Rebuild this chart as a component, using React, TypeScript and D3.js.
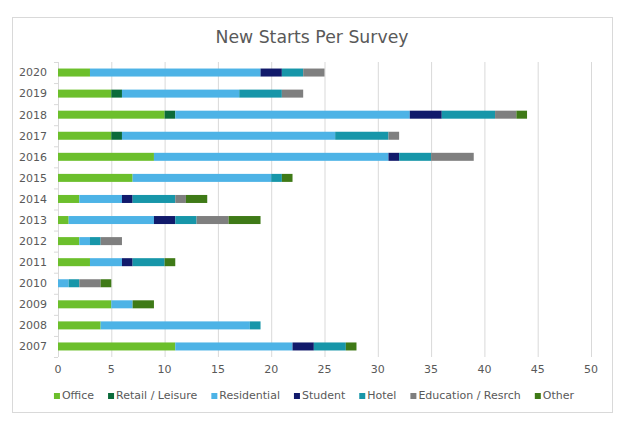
import React, { useRef, useEffect } from 'react';
import * as d3 from 'd3';

const years = ['2020', '2019', '2018', '2017', '2016', '2015', '2014', '2013', '2012', '2011', '2010', '2009', '2008', '2007'];
const seriesNames = ['Office', 'Retail / Leisure', 'Residential', 'Student', 'Hotel', 'Education / Resrch', 'Other'];
const seriesColors = ['#6cbf2c', '#0b6b3a', '#4db3e6', '#111a6b', '#1796a9', '#7f7f7f', '#3f7a17'];

// values per year, same order as years
const office = [3, 5, 10, 5, 9, 7, 2, 1, 2, 3, 0, 5, 4, 11];
const retail = [0, 1, 1, 1, 0, 0, 0, 0, 0, 0, 0, 0, 0, 0];
const residential = [16, 11, 22, 20, 22, 13, 4, 8, 1, 3, 1, 2, 14, 11];
const student = [2, 0, 3, 0, 1, 0, 1, 2, 0, 1, 0, 0, 0, 2];
const hotel = [2, 4, 5, 5, 3, 1, 4, 2, 1, 3, 1, 0, 1, 3];
const education = [2, 2, 2, 1, 4, 0, 1, 3, 2, 0, 2, 0, 0, 0];
const other = [0, 0, 1, 0, 0, 1, 2, 3, 0, 1, 1, 2, 0, 1];
const xTicks = [0, 5, 10, 15, 20, 25, 30, 35, 40, 45, 50];

const W = 629;
const H = 427;

const App: React.FC = () => {
    const ref = useRef<SVGSVGElement | null>(null);

    useEffect(() => {
        if (!ref.current) return;
        const svg = d3.select(ref.current);
        svg.selectAll('*').remove();
        const font = 'Verdana, "DejaVu Sans", sans-serif';

        const rows = years.map((y, i) => ({
            year: y,
            vals: [office[i], retail[i], residential[i], student[i], hotel[i], education[i], other[i]],
        }));

        const x = d3.scaleLinear().domain([0, 50]).range([58, 591]);
        const y = d3.scaleBand<string>().domain(years).range([62, 357]).paddingInner(0.62).paddingOuter(0.31);

        // frame
        svg.append('rect')
            .attr('x', 12.5).attr('y', 17.5).attr('width', 600).attr('height', 395)
            .attr('fill', '#fff').attr('stroke', '#d9d9d9');

        svg.append('text')
            .attr('x', 312).attr('y', 43)
            .attr('text-anchor', 'middle')
            .attr('font-family', font).attr('font-size', 17.3)
            .attr('fill', '#595959')
            .text('New Starts Per Survey');

        // gridlines
        svg.append('g').selectAll('line')
            .data(xTicks.slice(1))
            .join('line')
            .attr('x1', d => x(d) + 0.5).attr('x2', d => x(d) + 0.5)
            .attr('y1', 62).attr('y2', 357)
            .attr('stroke', '#d9d9d9');

        // y axis line + ticks
        svg.append('line')
            .attr('x1', x(0) + 0.5).attr('x2', x(0) + 0.5)
            .attr('y1', 62).attr('y2', 357)
            .attr('stroke', '#d9d9d9');
        const step = y.step();
        svg.append('g').selectAll('line')
            .data(d3.range(years.length + 1))
            .join('line')
            .attr('x1', x(0) - 4).attr('x2', x(0))
            .attr('y1', i => 62 + i * step + 0.5).attr('y2', i => 62 + i * step + 0.5)
            .attr('stroke', '#d9d9d9');

        // bars
        const stack = d3.stack<{ year: string; vals: number[] }, number>()
            .keys(d3.range(seriesNames.length))
            .value((d, k) => d.vals[k]);
        const layers = stack(rows);

        svg.append('g').selectAll('g')
            .data(layers)
            .join('g')
            .attr('fill', (d, i) => seriesColors[i])
            .selectAll('rect')
            .data(d => d)
            .join('rect')
            .attr('x', d => x(d[0]))
            .attr('width', d => x(d[1]) - x(d[0]))
            .attr('y', d => y(d.data.year) as number)
            .attr('height', y.bandwidth());

        // year labels
        svg.append('g').selectAll('text')
            .data(years)
            .join('text')
            .attr('x', 47)
            .attr('y', d => (y(d) as number) + y.bandwidth() / 2)
            .attr('dy', '0.35em')
            .attr('text-anchor', 'end')
            .attr('font-family', font).attr('font-size', 11)
            .attr('fill', '#595959')
            .text(d => d);

        // x tick labels
        svg.append('g').selectAll('text')
            .data(xTicks)
            .join('text')
            .attr('x', d => x(d))
            .attr('y', 373)
            .attr('text-anchor', 'middle')
            .attr('font-family', font).attr('font-size', 11)
            .attr('fill', '#595959')
            .text(d => d);

        // legend
        const lg = svg.append('g');
        const items = lg.selectAll('g')
            .data(seriesNames)
            .join('g');
        items.append('rect')
            .attr('width', 6).attr('height', 6)
            .attr('y', -6)
            .attr('fill', (d, i) => seriesColors[i]);
        items.append('text')
            .attr('x', 8)
            .attr('font-family', font).attr('font-size', 11)
            .attr('fill', '#595959')
            .text(d => d);
        let cx = 0;
        const gap = 14;
        items.each(function () {
            const t = d3.select(this).select('text').node() as SVGTextElement;
            const w = 8 + t.getComputedTextLength();
            d3.select(this).attr('transform', `translate(${cx},0)`);
            cx += w + gap;
        });
        const total = cx - gap;
        lg.attr('transform', `translate(${314 - total / 2},399)`);

        return () => {
            svg.selectAll('*').remove();
        };
    }, []);

    return (
        <svg ref={ref} width={W} height={H}
             style={{ position: 'absolute', left: 0, top: 0, background: '#fff' }} />
    );
};

export default App;
